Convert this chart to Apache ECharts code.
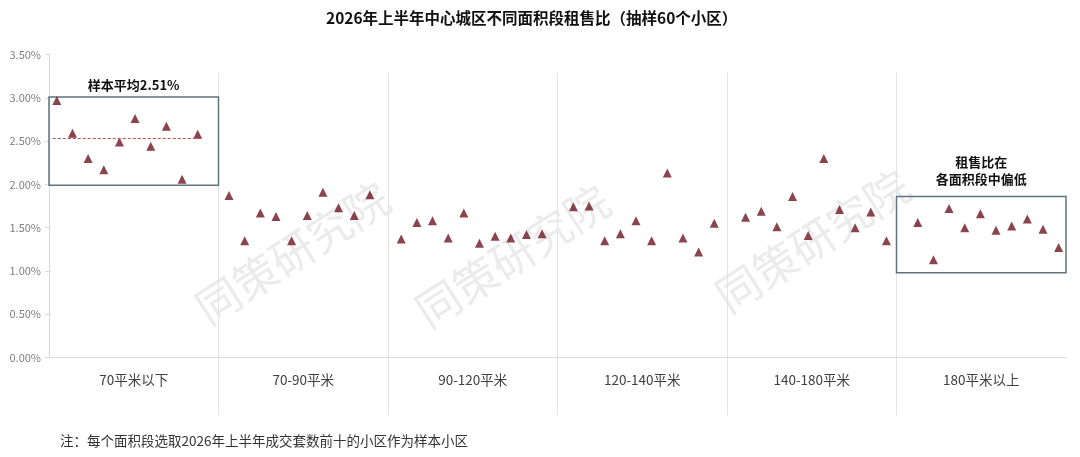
<!DOCTYPE html>
<html>
<head>
<meta charset="utf-8">
<title>租售比</title>
<script src="https://cdn.jsdelivr.net/npm/echarts@6/dist/echarts.min.js"></script>
<style>
  html, body { margin: 0; padding: 0; background: #fff; }
  #main { width: 1080px; height: 457px; }
</style>
</head>
<body>
<div id="main"></div>
<script>
// 面积段
var categories = ['70平米以下', '70-90平米', '90-120平米', '120-140平米', '140-180平米', '180平米以上'];
// 每个面积段10个样本小区的租售比(%)
var ratio70 = [2.97, 2.59, 2.30, 2.17, 2.49, 2.76, 2.44, 2.67, 2.06, 2.58];
var ratio70_90 = [1.87, 1.35, 1.67, 1.63, 1.35, 1.64, 1.91, 1.73, 1.64, 1.88];
var ratio90_120 = [1.37, 1.56, 1.58, 1.38, 1.67, 1.32, 1.40, 1.38, 1.42, 1.43];
var ratio120_140 = [1.74, 1.75, 1.35, 1.43, 1.58, 1.35, 2.13, 1.38, 1.22, 1.55];
var ratio140_180 = [1.62, 1.69, 1.51, 1.86, 1.41, 2.30, 1.71, 1.50, 1.68, 1.35];
var ratio180 = [1.56, 1.13, 1.72, 1.50, 1.66, 1.47, 1.52, 1.60, 1.48, 1.27];
var groups = [ratio70, ratio70_90, ratio90_120, ratio120_140, ratio140_180, ratio180];

var avg70 = 2.51;
var avgLineY = 2.53;        // 图上虚线的位置
var box1Y = [1.99, 3.01];   // 70平米以下 的框
var box2Y = [0.98, 1.86];   // 180平米以上 的框

var chart = echarts.init(document.getElementById('main'));

// 每个面积段占11个位置, 10个点 + 1个空位
var xMin = -0.5, xMax = 64.47;
var catW = (xMax - xMin) / categories.length;
var points = [];
for (var c = 0; c < groups.length; c++) {
    for (var i = 0; i < groups[c].length; i++) {
        points.push([c * 11 + i, groups[c][i]]);
    }
}

var font = '"Noto Sans CJK SC", "Noto Sans", sans-serif';
var watermark = function (x, y) {
    return {
        type: 'text', left: x, top: y, rotation: Math.PI / 5.5, z: -1,
        style: { text: '同策研究院', fill: '#ebebeb', font: '44px ' + font }
    };
};

var option = {
    animation: false,
    title: {
        text: '2026年上半年中心城区不同面积段租售比（抽样60个小区）',
        left: 321, top: 5,
        textStyle: { fontFamily: font, fontSize: 15.5, fontWeight: 'bold', color: '#111' }
    },
    grid: [
        { left: 49, right: 14, top: 54.5, bottom: 99.5 },
        { left: 49, right: 14, top: 73, bottom: 42 }
    ],
    xAxis: [
        { type: 'value', gridIndex: 0, min: xMin, max: xMax, show: false },
        {
            type: 'category', gridIndex: 0, data: categories, position: 'bottom',
            axisLine: { onZero: false, lineStyle: { color: '#d9d9d9', width: 1 } },
            axisTick: { show: false },
            splitLine: { show: false },
            axisLabel: { margin: 16, color: '#404040', fontSize: 13.5, fontFamily: font }
        },
        {
            type: 'value', gridIndex: 1, min: 0, max: 6, interval: 1,
            axisLine: { show: false }, axisTick: { show: false }, axisLabel: { show: false },
            splitLine: { show: true, showMinLine: false, showMaxLine: false, lineStyle: { color: '#e3e3e3', width: 1 } }
        }
    ],
    yAxis: [
        {
            type: 'value', gridIndex: 0, min: 0, max: 3.5, interval: 0.5,
            axisLine: { show: true, onZero: false, lineStyle: { color: '#d9d9d9' } },
            axisTick: { show: true, length: 4, lineStyle: { color: '#d9d9d9' } },
            splitLine: { show: false },
            axisLabel: {
                margin: 8, color: '#7f7f7f', fontSize: 11, fontFamily: font,
                formatter: function (v) { return v.toFixed(2) + '%'; }
            }
        },
        { type: 'value', gridIndex: 1, show: false, min: 0, max: 1 }
    ],
    graphic: [
        watermark(188, 175),
        watermark(408, 178),
        watermark(708, 163),
        {
            type: 'text', left: 60, top: 434,
            style: { text: '注：每个面积段选取2026年上半年成交套数前十的小区作为样本小区', fill: '#333', font: '13.5px ' + font }
        }
    ],
    series: [
        {
            type: 'scatter', xAxisIndex: 0, yAxisIndex: 0,
            data: points,
            symbol: 'triangle', symbolSize: 9,
            itemStyle: { color: '#6e1522' },
            markLine: {
                silent: true, symbol: 'none', label: { show: false },
                lineStyle: { color: '#c0504d', type: [3, 2], width: 1 },
                data: [[{ coord: [-0.26, avgLineY] }, { coord: [9.27, avgLineY] }]]
            },
            markArea: {
                silent: true,
                itemStyle: { color: 'rgba(0,0,0,0)', borderColor: '#5f7481', borderWidth: 1.5 },
                label: {
                    position: 'top', distance: 3, color: '#111', fontWeight: 'bold',
                    fontSize: 13, lineHeight: 17, fontFamily: font
                },
                data: [
                    [{ name: '样本平均' + avg70.toFixed(2) + '%', coord: [xMin, box1Y[1]] },
                     { coord: [xMin + catW, box1Y[0]] }],
                    [{ name: '租售比在\n各面积段中偏低', coord: [xMin + 5 * catW, box2Y[1]], label: { distance: 8 } },
                     { coord: [xMax, box2Y[0]] }]
                ]
            }
        }
    ]
};
chart.setOption(option);
</script>
</body>
</html>
